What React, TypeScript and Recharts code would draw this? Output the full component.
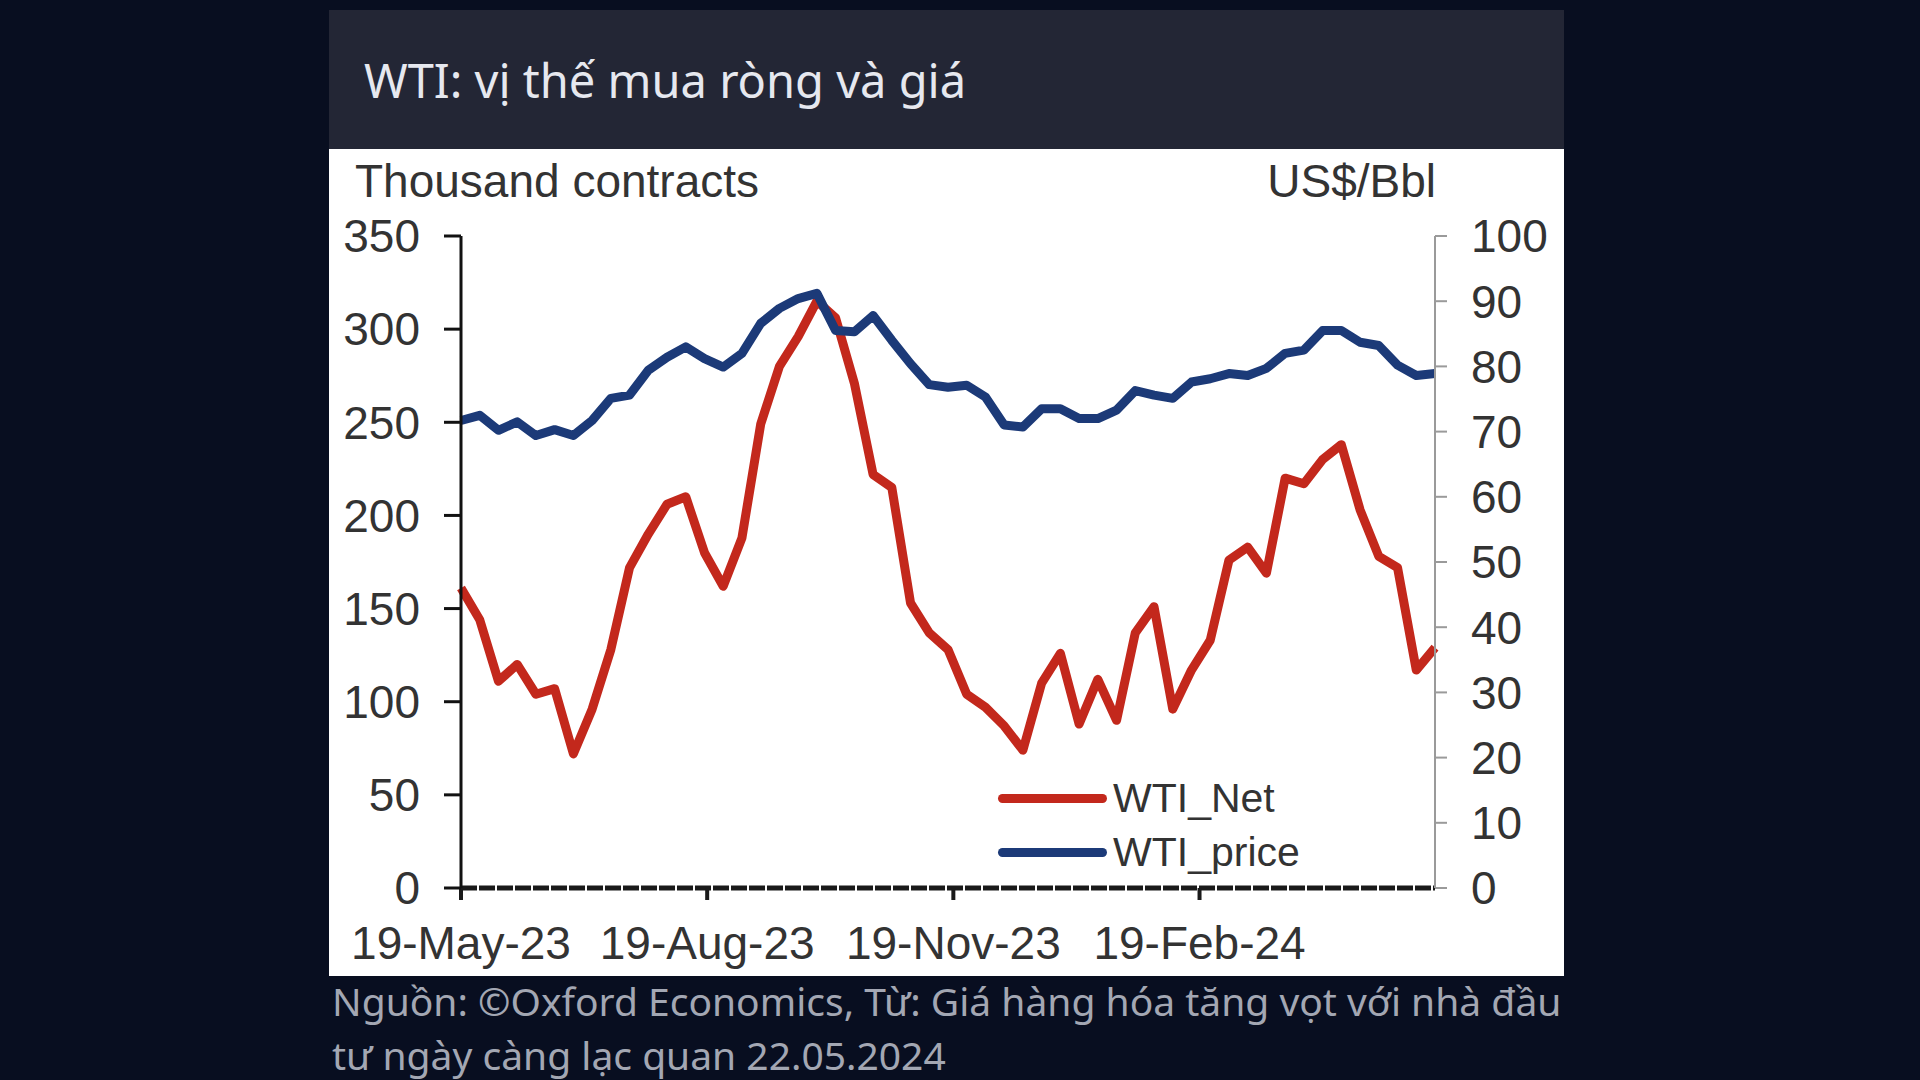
import React from "react";
import { LineChart, Line, XAxis, YAxis } from "recharts";

// weekly observations (Fridays), 19 May 2023 to 17 May 2024
const weekDates = [
  "2023-05-19", "2023-05-26", "2023-06-02", "2023-06-09", "2023-06-16", "2023-06-23",
  "2023-06-30", "2023-07-07", "2023-07-14", "2023-07-21", "2023-07-28", "2023-08-04",
  "2023-08-11", "2023-08-18", "2023-08-25", "2023-09-01", "2023-09-08", "2023-09-15",
  "2023-09-22", "2023-09-29", "2023-10-06", "2023-10-13", "2023-10-20", "2023-10-27",
  "2023-11-03", "2023-11-10", "2023-11-17", "2023-11-24", "2023-12-01", "2023-12-08",
  "2023-12-15", "2023-12-22", "2023-12-29", "2024-01-05", "2024-01-12", "2024-01-19",
  "2024-01-26", "2024-02-02", "2024-02-09", "2024-02-16", "2024-02-23", "2024-03-01",
  "2024-03-08", "2024-03-15", "2024-03-22", "2024-03-29", "2024-04-05", "2024-04-12",
  "2024-04-19", "2024-04-26", "2024-05-03", "2024-05-10", "2024-05-17",
];

// thousand contracts (left axis)
const wtiNet = [
  161, 144, 111, 120, 104, 107, 72, 96, 128, 172, 190, 206, 210,
  180, 162, 188, 249, 280, 296, 315, 306, 271, 222, 215, 153, 137,
  128, 104, 97, 87, 74, 110, 126, 88, 112, 90, 137, 151, 96,
  117, 133, 176, 183, 169, 220, 217, 230, 238, 203, 178, 172, 117, 129,
];

// US$/bbl (right axis)
const wtiPrice = [
  71.7, 72.5, 70.2, 71.5, 69.4, 70.3, 69.4, 71.7, 75.1, 75.6, 79.4, 81.4, 83.0,
  81.2, 79.9, 82.0, 86.6, 88.9, 90.4, 91.2, 85.5, 85.3, 87.8, 84.0, 80.4, 77.2,
  76.8, 77.1, 75.3, 71.0, 70.7, 73.5, 73.5, 72.0, 72.0, 73.3, 76.3, 75.6, 75.1,
  77.6, 78.1, 78.9, 78.6, 79.7, 82.0, 82.5, 85.5, 85.5, 83.7, 83.2, 80.2, 78.6, 78.9,
];

const tickDates = ["2023-05-19", "2023-08-19", "2023-11-19", "2024-02-19"];
const tickLabels = ["19-May-23", "19-Aug-23", "19-Nov-23", "19-Feb-24"];
const leftTicks = [0, 50, 100, 150, 200, 250, 300, 350];
const rightTicks = [0, 10, 20, 30, 40, 50, 60, 70, 80, 90, 100];

const DAY = 86400000;
const start = Date.parse(weekDates[0]);
const toDay = (d: string) => Math.round((Date.parse(d) - start) / DAY);

const rows = weekDates.map((d, i) => ({
  day: toDay(d),
  net: wtiNet[i],
  price: wtiPrice[i],
}));
const tickDays = tickDates.map(toDay);

const RED = "#c3281c";
const BLUE = "#1c3a78";
const AXIS_FONT = "'Liberation Sans', Arial, sans-serif";
const UI_FONT = "'Noto Sans', 'Open Sans', sans-serif";
const tickStyle = { fill: "#333", fontSize: 46, fontFamily: AXIS_FONT };

export default function App() {
  return (
    <div
      style={{
        position: "fixed",
        left: 0,
        top: 0,
        width: 1920,
        height: 1080,
        background: "#080e20",
        overflow: "hidden",
      }}
    >
      {/* title bar */}
      <div
        style={{
          position: "absolute",
          left: 329,
          top: 10,
          width: 1235,
          height: 139,
          background: "#232635",
        }}
      >
        <div
          style={{
            position: "absolute",
            left: 35,
            top: 40,
            fontFamily: UI_FONT,
            fontSize: 47,
            lineHeight: "60px",
            color: "#e6e8ef",
            whiteSpace: "nowrap",
          }}
        >
          WTI: vị thế mua ròng và giá
        </div>
      </div>

      {/* chart card */}
      <div
        style={{
          position: "absolute",
          left: 329,
          top: 149,
          width: 1235,
          height: 827,
          background: "#ffffff",
        }}
      >
        <LineChart
          width={1235}
          height={827}
          data={rows}
          margin={{ top: 87, right: 0, bottom: 0, left: 0 }}
        >
          <XAxis
            dataKey="day"
            type="number"
            domain={[0, 364]}
            ticks={tickDays}
            tickFormatter={(v) => tickLabels[tickDays.indexOf(v)] ?? ""}
            height={88}
            tickSize={12}
            tickMargin={26}
            axisLine={{ stroke: "#1a1a1a", strokeWidth: 5, strokeDasharray: "16 2" }}
            tickLine={{ stroke: "#1a1a1a", strokeWidth: 4 }}
            tick={tickStyle}
          />
          <YAxis
            yAxisId="net"
            domain={[0, 350]}
            ticks={leftTicks}
            width={132}
            tickSize={17}
            tickMargin={24}
            axisLine={{ stroke: "#111", strokeWidth: 3 }}
            tickLine={{ stroke: "#111", strokeWidth: 3 }}
            tick={tickStyle}
          />
          <YAxis
            yAxisId="price"
            orientation="right"
            domain={[0, 100]}
            ticks={rightTicks}
            width={129}
            tickSize={12}
            tickMargin={24}
            axisLine={{ stroke: "#9a9a9a", strokeWidth: 2 }}
            tickLine={{ stroke: "#9a9a9a", strokeWidth: 2 }}
            tick={tickStyle}
          />
          <Line
            yAxisId="net"
            type="linear"
            dataKey="net"
            stroke={RED}
            strokeWidth={9}
            strokeLinejoin="round"
            dot={false}
            isAnimationActive={false}
          />
          <Line
            yAxisId="price"
            type="linear"
            dataKey="price"
            stroke={BLUE}
            strokeWidth={9}
            strokeLinejoin="round"
            dot={false}
            isAnimationActive={false}
          />
        </LineChart>

        {/* axis unit labels */}
        <div
          style={{
            position: "absolute",
            left: 26,
            top: 6,
            fontFamily: AXIS_FONT,
            fontSize: 46,
            lineHeight: "52px",
            color: "#333",
            whiteSpace: "nowrap",
          }}
        >
          Thousand contracts
        </div>
        <div
          style={{
            position: "absolute",
            right: 128,
            top: 6,
            fontFamily: AXIS_FONT,
            fontSize: 46,
            lineHeight: "52px",
            color: "#333",
            whiteSpace: "nowrap",
          }}
        >
          US$/Bbl
        </div>

        {/* legend */}
        <div
          style={{
            position: "absolute",
            left: 669,
            top: 622,
            fontFamily: AXIS_FONT,
            fontSize: 41,
            color: "#333",
          }}
        >
          {[
            { name: "WTI_Net", color: RED },
            { name: "WTI_price", color: BLUE },
          ].map((s) => (
            <div
              key={s.name}
              style={{ display: "flex", alignItems: "center", height: 54 }}
            >
              <span
                style={{
                  display: "inline-block",
                  width: 109,
                  height: 9,
                  borderRadius: 4.5,
                  background: s.color,
                  marginRight: 6,
                }}
              />
              {s.name}
            </div>
          ))}
        </div>
      </div>

      {/* source note */}
      <div
        style={{
          position: "absolute",
          left: 332,
          top: 974,
          width: 1260,
          fontFamily: UI_FONT,
          fontSize: 39,
          lineHeight: "54px",
          color: "#a3a7b3",
          whiteSpace: "nowrap",
        }}
      >
        Nguồn: ©Oxford Economics, Từ: Giá hàng hóa tăng vọt với nhà đầu
        <br />
        tư ngày càng lạc quan 22.05.2024
      </div>
    </div>
  );
}
